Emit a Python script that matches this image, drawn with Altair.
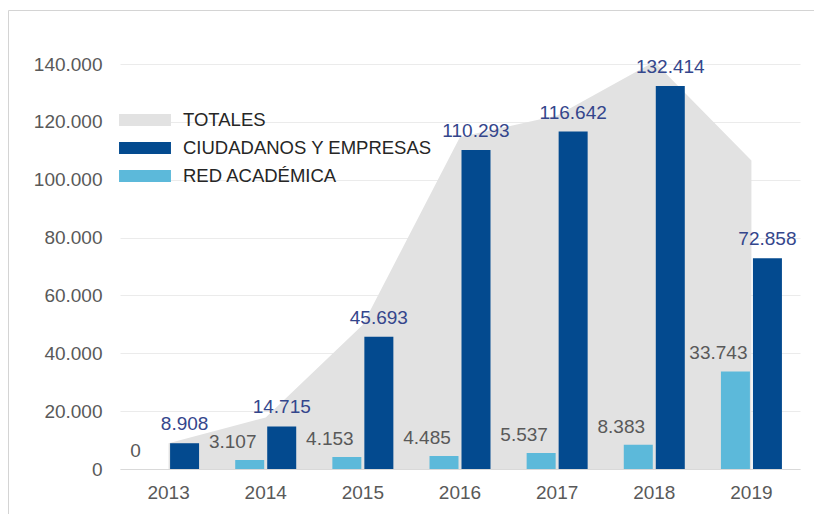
import altair as alt
import pandas as pd

# ---- data ----
years = ["2013", "2014", "2015", "2016", "2017", "2018", "2019"]
ciudadanos = [8908, 14715, 45693, 110293, 116642, 132414, 72858]
red_academica = [0, 3107, 4153, 4485, 5537, 8383, 33743]
totales = [8908, 17822, 49846, 114778, 122179, 140797, 106601]

series_names = ["TOTALES", "CIUDADANOS Y EMPRESAS", "RED ACADÉMICA"]
series_colors = ["#e2e2e2", "#034a8f", "#5cb9da"]
y_ticks = [0, 20000, 40000, 60000, 80000, 100000, 120000, 140000]

FONT = "Liberation Sans"


def fmt(v):
    return f"{v:,}".replace(",", ".")


area_df = pd.DataFrame({"year": years, "value": totales, "serie": series_names[0]})
bars_df = pd.DataFrame({
    "year": years + years,
    "value": red_academica + ciudadanos,
    "serie": [series_names[2]] * len(years) + [series_names[1]] * len(years),
    "label": [fmt(v) for v in red_academica] + [fmt(v) for v in ciudadanos],
})
frame_df = pd.DataFrame({"k": [0]})

legend = alt.Legend(
    title=None, orient="none", legendX=14, legendY=45,
    symbolType="M-2.36,-0.55H2.36V0.55H-2.36Z", symbolSize=484,
    symbolStrokeWidth=0, symbolOpacity=1,
    labelFont=FONT, labelFontSize=18.5, labelColor="#262626",
    labelOffset=27, rowPadding=7, labelLimit=400,
)
color = alt.Color("serie:N",
                  scale=alt.Scale(domain=series_names, range=series_colors),
                  legend=legend)

x = alt.X("year:N", sort=years,
          scale=alt.Scale(paddingInner=0.372, paddingOuter=0.186),
          axis=alt.Axis(title=None, labelAngle=0, ticks=False, tickSize=0,
                        domainColor="#d9d9d9", grid=False,
                        labelFont=FONT, labelFontSize=19, labelColor="#595959",
                        labelPadding=14))
y = alt.Y("value:Q", scale=alt.Scale(domain=[0, 140000], nice=False),
          axis=alt.Axis(title=None, values=y_ticks, ticks=False, tickSize=0,
                        domain=False, gridColor="#ebebeb",
                        labelFont=FONT, labelFontSize=19, labelColor="#595959",
                        labelPadding=18,
                        labelExpr="replace(format(datum.value, ',d'), ',', '.')"))
xoff = alt.XOffset("serie:N",
                   scale=alt.Scale(domain=[series_names[2], series_names[1]],
                                   paddingInner=0.094, paddingOuter=0))

# faint frame around the figure (top and left edges only are visible)
frame_top = alt.Chart(frame_df).mark_rule(color="#d4d4d4", strokeWidth=1).encode(
    x=alt.value(-111.5), x2=alt.value(2000), y=alt.value(-53.5))
frame_left = alt.Chart(frame_df).mark_rule(color="#d4d4d4", strokeWidth=1).encode(
    x=alt.value(-111.5), y=alt.value(-53.5), y2=alt.value(2000))

area = alt.Chart(area_df).mark_area(opacity=1).encode(x=x, y=y, color=color)

bars = alt.Chart(bars_df).mark_bar().encode(x=x, y=y, xOffset=xoff, color=color)

light_text = alt.Chart(bars_df).transform_filter(
    alt.datum.serie == series_names[2]
).mark_text(dx=-17, dy=-12, baseline="alphabetic", font=FONT, fontSize=19,
            color="#595959").encode(x=x, y=y, xOffset=xoff, text="label:N")

dark_text = alt.Chart(bars_df).transform_filter(
    alt.datum.serie == series_names[1]
).mark_text(dy=-13, baseline="alphabetic", font=FONT, fontSize=19,
            color="#34468c").encode(x=x, y=y, xOffset=xoff, text="label:N")

chart = alt.layer(frame_top, frame_left, area, bars, light_text, dark_text).properties(
    width=680, height=405,
    padding={"left": 112, "top": 56, "right": 14, "bottom": 45},
    autosize=alt.AutoSizeParams(type="none"),
).configure_view(stroke=None)

chart.save("out.html", embed_options={"renderer": "svg", "actions": False})
